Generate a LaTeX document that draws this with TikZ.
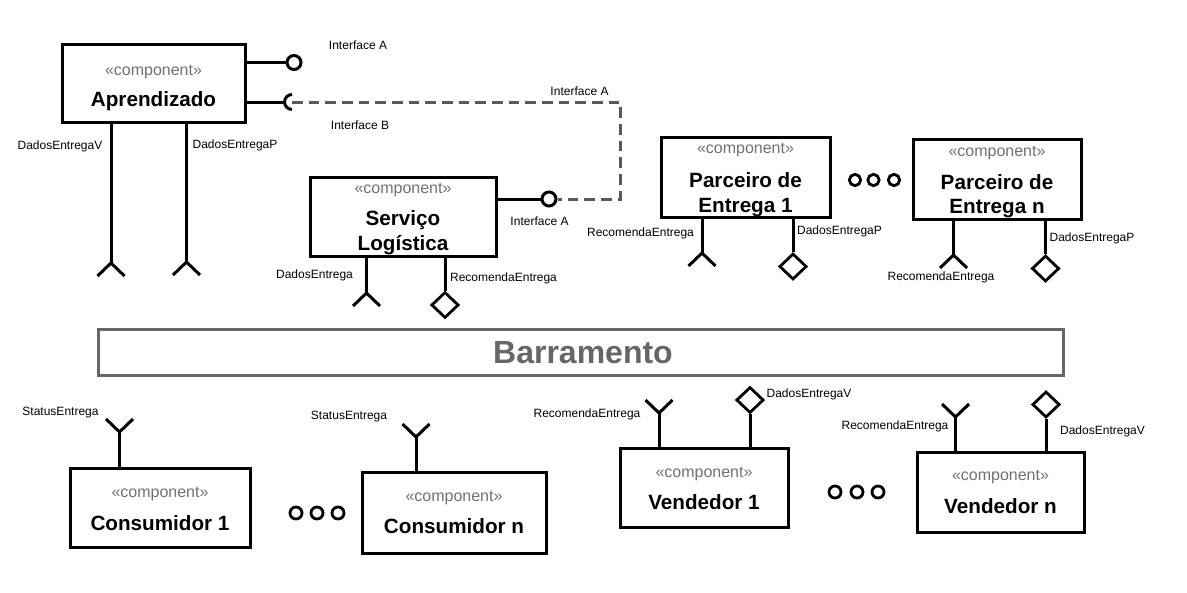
\documentclass[tikz,border=0pt]{standalone}
\usepackage{fontspec}
\setmainfont{Liberation Sans}
\usetikzlibrary{fit,shapes.geometric}
\definecolor{stereo}{HTML}{707070}
\definecolor{busgray}{HTML}{666666}
\definecolor{dashgray}{HTML}{595959}
\begin{document}
\begin{tikzpicture}[x=0.75pt,y=-0.75pt,line width=2.25pt,
  comp/.style={draw, line width=2.25pt, inner sep=0pt},
  ster/.style={anchor=base, text=stereo, font=\fontsize{12}{14}\selectfont, inner sep=0pt},
  cname/.style={anchor=base, font=\fontsize{15.5}{18}\selectfont\bfseries, inner sep=0pt},
  lbl/.style={anchor=base, font=\fontsize{9}{10}\selectfont, inner sep=0pt},
  lolli/.style={circle, draw, line width=2.25pt, minimum size=10.5pt, inner sep=0pt},
  dotc/.style={circle, draw, line width=2.1pt, minimum size=#1, inner sep=0pt},
  prov/.style={diamond, draw, line width=2.1pt, minimum width=20.5pt, minimum height=19.5pt, inner sep=0pt},
  wire/.style={line width=2.25pt},
  dashline/.style={draw=dashgray, line width=2.25pt, dash pattern=on 8pt off 4.5pt},
  forkd/.pic={\draw[line width=2.25pt, line join=miter] (-13.5,13)--(0,0)--(13.5,13);},
  forku/.pic={\draw[line width=2.25pt, line join=miter] (-13.5,-13)--(0,0)--(13.5,-13);}
]
\useasboundingbox (0,0) rectangle (1187,592);

% ---------- Aprendizado ----------
\node[comp, fit={(62,45)(245,122)}] (apr) {};
\node[ster] (aprs) at (153.5,75.5) {«component»};
\node[cname] (aprn) at (153.5,106.4) {Aprendizado};
\node[lolli] (ia) at (294,62.5) {};
\draw[wire] (apr.east |- ia) -- (ia);
\node[lbl] (ialbl) at (358,50) {Interface A};
\coordinate (ib) at (292,102);
\coordinate (ibl) at (284.5,102);
\draw[wire] (apr.east |- ibl) -- (ibl);
\draw[wire] (ib) ++(0,-7.5) arc[start angle=90, end angle=270, radius=5.6pt];
\node[lbl] (iblbl) at (360,129.3) {Interface B};
\node[lbl] (ia2lbl) at (579.5,95.3) {Interface A};
\coordinate (fa1) at (111,263);
\draw[wire] (apr.south -| fa1) -- (fa1);
\pic at (fa1) {forkd};
\node[lbl] (fa1lbl) at (60,149.3) {DadosEntregaV};
\coordinate (fa2) at (186.5,262);
\draw[wire] (apr.south -| fa2) -- (fa2);
\pic at (fa2) {forkd};
\node[lbl] (fa2lbl) at (235,148.3) {DadosEntregaP};

% ---------- Servico Logistica ----------
\node[comp, fit={(310,177)(496,256)}] (svc) {};
\node[ster] (svcs) at (403,193.5) {«component»};
\node[cname] (svcn1) at (403,225.4) {Serviço};
\node[cname] (svcn2) at (403,250.4) {Logística};
\node[lolli] (sl) at (549,199) {};
\draw[wire] (svc.east |- sl) -- (sl);
\node[lbl] (sllbl) at (539.5,225.3) {Interface A};
\coordinate (d2) at (620,199);
\draw[dashline] (ib) -| (d2) -- (sl);
\coordinate (fs) at (366.5,293);
\draw[wire] (svc.south -| fs) -- (fs);
\pic at (fs) {forkd};
\node[lbl] (fslbl) at (314.5,278.3) {DadosEntrega};
\node[prov] (ds) at (445,305) {};
\draw[wire] (svc.south -| ds) -- (ds.north);
\node[lbl] (dslbl) at (503.5,281.3) {RecomendaEntrega};

% ---------- Parceiro de Entrega 1 ----------
\node[comp, fit={(661,137)(830,217)}] (p1) {};
\node[ster] (p1s) at (745.5,153.5) {«component»};
\node[cname] (p1n1) at (745.5,187.4) {Parceiro de};
\node[cname] (p1n2) at (745.5,212.4) {Entrega 1};
\coordinate (fp1) at (702,253);
\draw[wire] (p1.south -| fp1) -- (fp1);
\pic at (fp1) {forkd};
\node[lbl] (fp1lbl) at (640.5,236.3) {RecomendaEntrega};
\node[prov] (dp1) at (793,266.5) {};
\draw[wire] (p1.south -| dp1) -- (dp1.north);
\node[lbl] (dp1lbl) at (839.5,234.3) {DadosEntregaP};

% dots
\node[dotc=8.5pt] (pd1) at (855,180) {};
\node[dotc=8.5pt] (pd2) at (873.5,180) {};
\node[dotc=8.5pt] (pd3) at (894,180) {};

% ---------- Parceiro de Entrega n ----------
\node[comp, fit={(913,139)(1081,219)}] (pn) {};
\node[ster] (pns) at (997,156.5) {«component»};
\node[cname] (pnn1) at (997,189.4) {Parceiro de};
\node[cname] (pnn2) at (997,213.4) {Entrega n};
\coordinate (fpn) at (953.5,255);
\draw[wire] (pn.south -| fpn) -- (fpn);
\pic at (fpn) {forkd};
\node[lbl] (fpnlbl) at (941,280.3) {RecomendaEntrega};
\node[prov] (dpn) at (1045.5,268.5) {};
\draw[wire] (pn.south -| dpn) -- (dpn.north);
\node[lbl] (dpnlbl) at (1092,241.3) {DadosEntregaP};

% ---------- Barramento ----------
\node[draw=busgray, line width=2.25pt, inner sep=0pt, fit={(98,329)(1063,375)}] (bus) {};
\node[anchor=base, text=busgray, font=\fontsize{24}{28}\selectfont\bfseries, inner sep=0pt] (busn) at (583,363.5) {Barramento};

% ---------- Consumidor 1 ----------
\node[comp, fit={(70,468)(250,547)}] (c1) {};
\node[ster] (c1s) at (160,497.5) {«component»};
\node[cname] (c1n) at (160,530.4) {Consumidor 1};
\coordinate (fc1) at (119.5,432);
\draw[wire] (c1.north -| fc1) -- (fc1);
\pic at (fc1) {forku};
\node[lbl] (fc1lbl) at (60.5,415.3) {StatusEntrega};

\node[dotc=9pt] (cd1) at (296,513) {};
\node[dotc=9pt] (cd2) at (317,513) {};
\node[dotc=9pt] (cd3) at (338,513) {};

% ---------- Consumidor n ----------
\node[comp, fit={(362,472)(546,553)}] (cn) {};
\node[ster] (cns) at (454,501.5) {«component»};
\node[cname] (cnn) at (454,533.4) {Consumidor n};
\coordinate (fcn) at (416,437);
\draw[wire] (cn.north -| fcn) -- (fcn);
\pic at (fcn) {forku};
\node[lbl] (fcnlbl) at (349,419.3) {StatusEntrega};

% ---------- Vendedor 1 ----------
\node[comp, fit={(620,448)(788,527)}] (v1) {};
\node[ster] (v1s) at (704,477.5) {«component»};
\node[cname] (v1n) at (704,509.4) {Vendedor 1};
\coordinate (fv1) at (659,413);
\draw[wire] (v1.north -| fv1) -- (fv1);
\pic at (fv1) {forku};
\node[lbl] (fv1lbl) at (587,417.3) {RecomendaEntrega};
\node[prov] (dv1) at (750,400) {};
\draw[wire] (v1.north -| dv1) -- (dv1.south);
\node[lbl] (dv1lbl) at (809,397.3) {DadosEntregaV};

\node[dotc=9pt] (vd1) at (835,492) {};
\node[dotc=9pt] (vd2) at (857,492) {};
\node[dotc=9pt] (vd3) at (878,492) {};

% ---------- Vendedor n ----------
\node[comp, fit={(917,452)(1084,532)}] (vn) {};
\node[ster] (vns) at (1000.5,480.5) {«component»};
\node[cname] (vnn) at (1000.5,513.4) {Vendedor n};
\coordinate (fvn) at (955.5,417);
\draw[wire] (vn.north -| fvn) -- (fvn);
\pic at (fvn) {forku};
\node[lbl] (fvnlbl) at (895,429.3) {RecomendaEntrega};
\node[prov] (dvn) at (1046,404.5) {};
\draw[wire] (vn.north -| dvn) -- (dvn.south);
\node[lbl] (dvnlbl) at (1102.5,434.3) {DadosEntregaV};
\end{tikzpicture}
\end{document}
